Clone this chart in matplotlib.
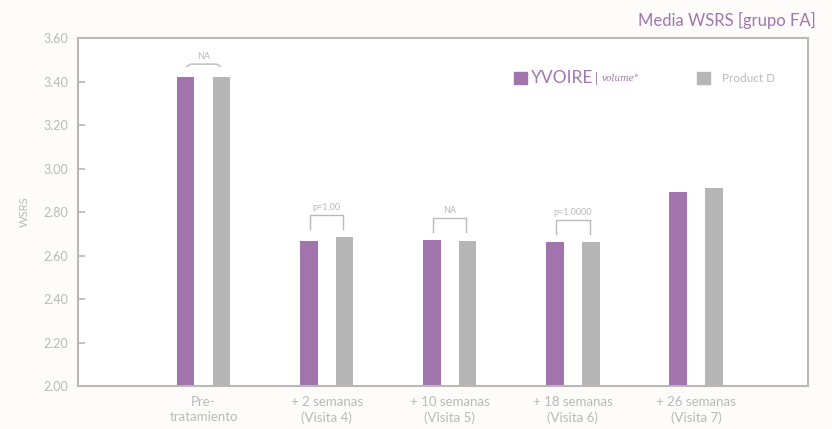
import matplotlib
matplotlib.use("Agg")
import matplotlib.pyplot as plt
import numpy as np
from matplotlib.patches import Rectangle

categories = ["Pre-\ntratamiento", "+ 2 semanas\n(Visita 4)", "+ 10 semanas\n(Visita 5)",
              "+ 18 semanas\n(Visita 6)", "+ 26 semanas\n(Visita 7)"]
yvoire = [3.42, 2.665, 2.672, 2.662, 2.89]
product_d = [3.42, 2.687, 2.665, 2.662, 2.91]
pvalues = ["NA", "p=1.00", "NA", "p=1.0000", ""]
yticks = [2.00, 2.20, 2.40, 2.60, 2.80, 3.00, 3.20, 3.40, 3.60]

PURPLE = "#a274ad"
GREY = "#b5b5b5"
TEXT = "#b9b9b9"
SPINE = "#b8b8b8"

plt.rcParams['font.family'] = ['Lato', 'DejaVu Sans']

fig = plt.figure(figsize=(8.32, 4.29), dpi=100, facecolor="#fdfcfa")
ax = fig.add_axes([0.0938, 0.1002, 0.8774, 0.8112])
ax.set_facecolor("white")

x = np.arange(len(categories))
w = 0.142
off = 0.145
ax.bar(x - off, yvoire, width=w, color=PURPLE, zorder=2)
ax.bar(x + off, product_d, width=w, color=GREY, zorder=2)

ax.set_xlim(-1.02, 4.91)
ax.set_ylim(2.0, 3.6)
ax.set_yticks(yticks)
ax.set_yticklabels([f"{v:.2f}" for v in yticks], color=TEXT, fontsize=9)
ax.tick_params(axis='y', direction='in', length=5, width=1.2, color=SPINE, pad=7)
ax.set_xticks(x)
ax.set_xticklabels(categories, color=TEXT, fontsize=9.5, linespacing=1.35)
ax.tick_params(axis='x', length=0, pad=7)
for s in ax.spines.values():
    s.set_color(SPINE)
    s.set_linewidth(1.5)

ax.set_ylabel("WSRS", color=TEXT, fontsize=8, labelpad=10)

# significance brackets
for i, p in enumerate(pvalues):
    if not p:
        continue
    top = max(yvoire[i], product_d[i])
    x0, x1 = x[i] - off + 0.01, x[i] + off - 0.01
    if i == 0:
        yb = top + 0.06
        ax.plot([x0, x0 + 0.03, x1 - 0.03, x1], [yb - 0.01, yb, yb, yb - 0.01],
                color=TEXT, lw=1.0)
        ax.text(x[i], yb + 0.015, p, ha='center', va='bottom', color=TEXT, fontsize=6.5)
    else:
        yb = top + 0.10
        yl = top + 0.035
        ax.plot([x0, x0, x1, x1], [yl, yb, yb, yl], color=TEXT, lw=1.0)
        ax.text(x[i], yb + 0.015, p, ha='center', va='bottom', color=TEXT, fontsize=6.5)

# legend (manual)
ax.add_patch(Rectangle((0.597, 0.867), 0.018, 0.034, transform=ax.transAxes,
                       color=PURPLE, clip_on=False))
ax.text(0.620, 0.884, "YVOIRE", transform=ax.transAxes, color=PURPLE,
        fontsize=12.5, va='center', ha='left')
ax.text(0.708, 0.884, "|", transform=ax.transAxes, color=PURPLE,
        fontsize=9, va='center', ha='left')
ax.text(0.717, 0.884, "volume°", transform=ax.transAxes, color=PURPLE,
        fontsize=6.5, va='center', ha='left', family=['DejaVu Serif'], style='italic')
ax.add_patch(Rectangle((0.848, 0.867), 0.018, 0.034, transform=ax.transAxes,
                       color=GREY, clip_on=False))
ax.text(0.882, 0.884, "Product D", transform=ax.transAxes, color=TEXT,
        fontsize=8.5, va='center', ha='left')

fig.text(0.980, 0.953, "Media WSRS [grupo FA]", color=PURPLE, fontsize=12,
         ha='right', va='center')

fig.savefig("out.png", dpi=100, facecolor=fig.get_facecolor())
